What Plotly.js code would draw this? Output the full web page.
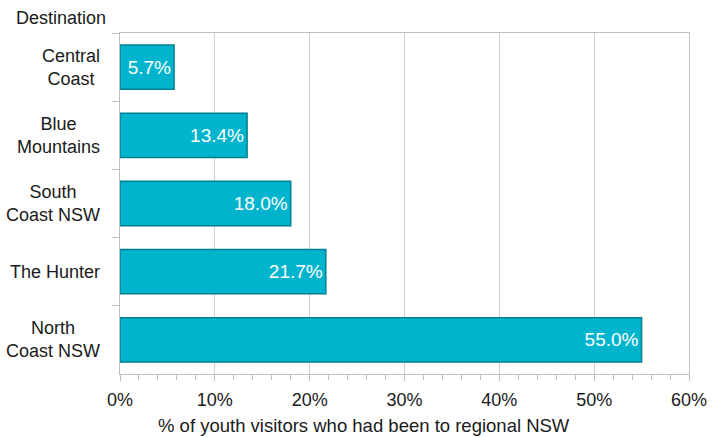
<!DOCTYPE html>
<html>
<head>
<meta charset="utf-8">
<script src="https://cdn.plot.ly/plotly-3.0.1.min.js"></script>
<style>html,body{margin:0;padding:0;background:#fff;}#chart{width:726px;height:437px;}</style>
</head>
<body>
<div id="chart"></div>
<script>
const categories = ["Central Coast", "Blue Mountains", "South Coast NSW", "The Hunter", "North Coast NSW"];
const categoryLabels = ["Central<br>Coast", "Blue<br>Mountains", "South<br>Coast NSW", "The Hunter", "North<br>Coast NSW"];
const values = [5.7, 13.4, 18.0, 21.7, 55.0];
const xTickVals = [0, 10, 20, 30, 40, 50, 60];
const xTickText = ["0%", "10%", "20%", "30%", "40%", "50%", "60%"];

const FONT = "Liberation Sans, Arial, sans-serif";

const trace = {
  type: "bar",
  orientation: "h",
  y: categories,
  x: values,
  marker: { color: "#00B4CE", line: { color: "#007F91", width: 1.5 } },
  texttemplate: "%{x:.1f}%",
  textposition: "inside",
  insidetextanchor: "end",
  textfont: { color: "#ffffff", size: 19, family: FONT },
  hoverinfo: "none",
  cliponaxis: false
};

const annotations = categories.map((c, i) => ({
  xref: "paper", yref: "y",
  x: -0.031, y: c,
  text: categoryLabels[i],
  showarrow: false,
  xanchor: "right", yanchor: "middle", align: "center",
  font: { size: 18, family: FONT, color: "#1a1a1a" }
}));
annotations.push({
  xref: "paper", yref: "paper", x: -0.186, y: 1.0,
  xanchor: "left", yanchor: "bottom", yshift: 3,
  text: "Destination", showarrow: false,
  font: { size: 18, family: FONT, color: "#1a1a1a" }
});
annotations.push({
  xref: "paper", yref: "paper", x: 0.4288, y: -0.15,
  xanchor: "center", yanchor: "middle",
  text: "% of youth visitors who had been to regional NSW", showarrow: false,
  font: { size: 18.5, family: FONT, color: "#1a1a1a" }
});

const layout = {
  width: 726, height: 437,
  margin: { l: 120, r: 37, t: 33, b: 63 },
  paper_bgcolor: "#ffffff", plot_bgcolor: "#ffffff",
  showlegend: false,
  bargap: 0.35,
  font: { family: FONT, size: 18, color: "#1a1a1a" },
  xaxis: {
    range: [0, 60],
    tickvals: xTickVals, ticktext: xTickText,
    showgrid: true, gridcolor: "#CFCFCF", gridwidth: 1,
    showline: true, linecolor: "#BFBFBF", linewidth: 1, mirror: true,
    ticks: "outside", ticklen: 6, tickcolor: "#BFBFBF",
    ticklabelstandoff: 3,
    minor: { dtick: 2, ticks: "outside", ticklen: 5, tickcolor: "#BFBFBF", showgrid: false },
    zeroline: false,
    tickfont: { size: 18, family: FONT, color: "#1a1a1a" },
    fixedrange: true
  },
  yaxis: {
    type: "category",
    categoryorder: "array", categoryarray: categories,
    autorange: "reversed",
    showticklabels: false,
    showgrid: false,
    showline: true, linecolor: "#BFBFBF", linewidth: 1, mirror: true,
    ticks: "outside", tickson: "boundaries", ticklen: 7, tickcolor: "#BFBFBF",
    zeroline: false,
    fixedrange: true
  },
  annotations: annotations
};

Plotly.newPlot("chart", [trace], layout, { displayModeBar: false, staticPlot: true });
</script>
</body>
</html>
